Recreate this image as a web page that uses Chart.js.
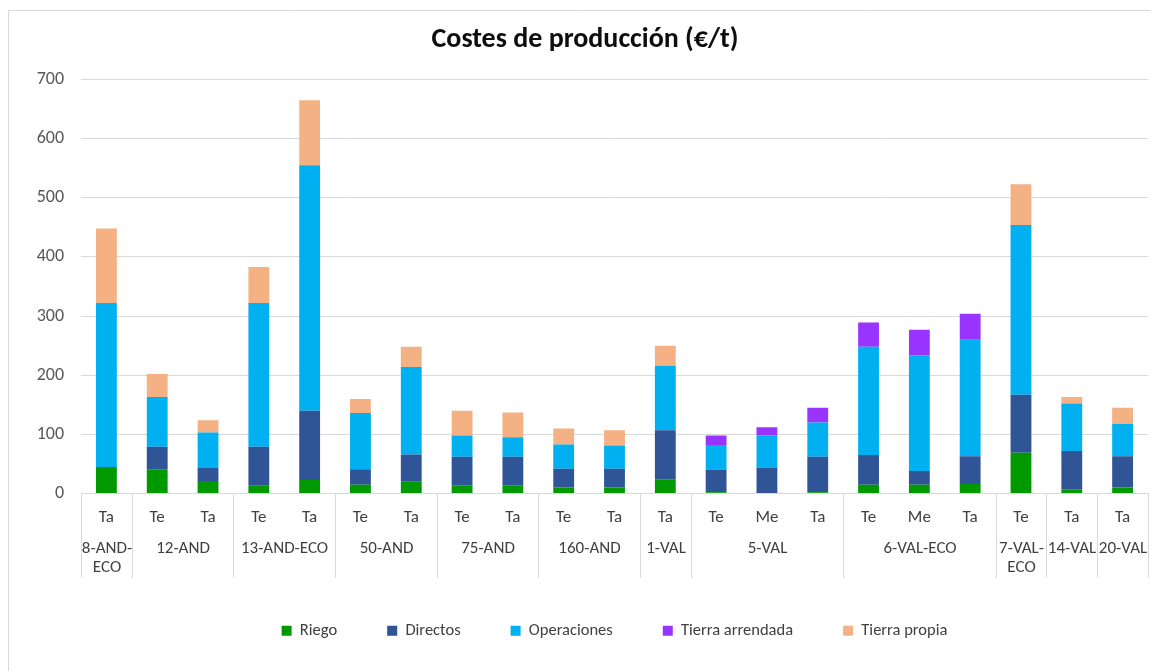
<!DOCTYPE html>
<html>
<head>
<meta charset="utf-8">
<script src="https://cdn.jsdelivr.net/npm/chart.js@4"></script>
<style>
  body { margin: 0; background: #fff; }
  canvas { display: block; }
</style>
</head>
<body>
<canvas id="chart" width="1151" height="671"></canvas>
<script>
// sub-category of every bar, and the farm groups they belong to
const subLabels = ['Ta', 'Te', 'Ta', 'Te', 'Ta', 'Te', 'Ta', 'Te', 'Ta', 'Te', 'Ta',
    'Ta', 'Te', 'Me', 'Ta', 'Te', 'Me', 'Ta', 'Te', 'Ta', 'Ta'];
const groups = ['8-AND-\nECO', '12-AND', '13-AND-ECO', '50-AND', '75-AND', '160-AND',
    '1-VAL', '5-VAL', '6-VAL-ECO', '7-VAL-\nECO', '14-VAL', '20-VAL'];
const groupSizes = [1, 2, 2, 2, 2, 2, 1, 3, 3, 1, 1, 1];

const riego = [45, 41, 21, 13, 23, 15, 20, 14, 14, 10, 10, 24, 2, 0, 2, 15, 15, 16, 69, 7, 10];
const directos = [0, 38, 22, 66, 117, 26, 46, 48, 48, 32, 32, 83, 38, 44, 60, 50, 23, 47, 98, 65, 53];
const operaciones = [277, 84, 60, 243, 415, 95, 148, 36, 33, 41, 39, 109, 42, 54, 58, 183, 196, 197, 287, 80, 55];
const tierraArrendada = [0, 0, 0, 0, 0, 0, 0, 0, 0, 0, 0, 0, 16, 14, 25, 41, 43, 44, 0, 0, 0];
const tierraPropia = [126, 39, 21, 61, 110, 24, 34, 42, 42, 27, 26, 34, 0, 0, 0, 0, 0, 0, 69, 11, 27];

const yTicks = [0, 100, 200, 300, 400, 500, 600, 700];

const FONT = 'Carlito, Lato, "Open Sans", sans-serif';
const GRID = '#d9d9d9';

Chart.defaults.font.family = FONT;

// frame lines and the two-level category table under the bars
const groupPlugin = {
    id: 'groupLabels',
    beforeDraw(chart) {
        const ctx = chart.ctx;
        ctx.save();
        ctx.strokeStyle = GRID;
        ctx.lineWidth = 1;
        ctx.beginPath();
        ctx.moveTo(8.5, chart.height);
        ctx.lineTo(8.5, 10.5);
        ctx.lineTo(chart.width, 10.5);
        ctx.stroke();
        ctx.restore();
    },
    afterDraw(chart) {
        const x = chart.scales.x;
        const ctx = chart.ctx;
        const half = (x.getPixelForValue(1) - x.getPixelForValue(0)) / 2;
        const top = x.top;
        const bottom = top + 84;
        ctx.save();
        ctx.strokeStyle = GRID;
        ctx.lineWidth = 1;
        ctx.fillStyle = '#404040';
        ctx.font = '17px ' + FONT;
        ctx.textAlign = 'center';
        ctx.textBaseline = 'middle';
        let start = 0;
        groups.forEach((name, g) => {
            const end = start + groupSizes[g] - 1;
            const left = Math.round(x.getPixelForValue(start) - half) + 0.5;
            const right = Math.round(x.getPixelForValue(end) + half) + 0.5;
            ctx.beginPath();
            ctx.moveTo(left, top);
            ctx.lineTo(left, bottom);
            ctx.moveTo(right, top);
            ctx.lineTo(right, bottom);
            ctx.stroke();
            name.split('\n').forEach((t, i) => {
                ctx.fillText(t, (left + right) / 2, top + 55 + i * 19);
            });
            start = end + 1;
        });
        ctx.restore();
    }
};

function ds(label, data, color) {
    return {
        label: label,
        data: data,
        backgroundColor: color,
        borderWidth: 0,
        barPercentage: 0.41,
        categoryPercentage: 1
    };
}

new Chart(document.getElementById('chart'), {
    type: 'bar',
    data: {
        labels: subLabels,
        datasets: [
            ds('Riego', riego, '#009900'),
            ds('Directos', directos, '#2f5597'),
            ds('Operaciones', operaciones, '#00b0f0'),
            ds('Tierra arrendada', tierraArrendada, '#9933ff'),
            ds('Tierra propia', tierraPropia, '#f4b183')
        ]
    },
    options: {
        responsive: false,
        animation: false,
        layout: {
            padding: { top: 2, right: 3, bottom: 22, left: 22 }
        },
        plugins: {
            title: {
                display: true,
                text: 'Costes de producción (€/t)',
                color: '#0d0d0d',
                font: { size: 28, weight: 'bold' },
                padding: { top: 21, bottom: 23 }
            },
            legend: {
                position: 'bottom',
                fullSize: false,
                labels: {
                    boxWidth: 10,
                    boxHeight: 10,
                    padding: 50,
                    color: '#404040',
                    font: { size: 16.5 }
                }
            },
            tooltip: { enabled: false }
        },
        scales: {
            x: {
                stacked: true,
                grid: { display: false },
                border: { display: true, color: GRID },
                ticks: {
                    color: '#404040',
                    font: { size: 17 },
                    padding: 6,
                    maxRotation: 0,
                    autoSkip: false
                },
                afterFit: (scale) => { scale.height = 79; }
            },
            y: {
                stacked: true,
                min: 0,
                max: 700,
                afterBuildTicks: (scale) => { scale.ticks = yTicks.map(v => ({ value: v })); },
                grid: { color: GRID, drawTicks: false },
                border: { display: false },
                ticks: {
                    color: '#595959',
                    font: { size: 18 },
                    padding: 17
                },
                afterFit: (scale) => { scale.width = 59; }
            }
        }
    },
    plugins: [groupPlugin]
});
</script>
</body>
</html>
